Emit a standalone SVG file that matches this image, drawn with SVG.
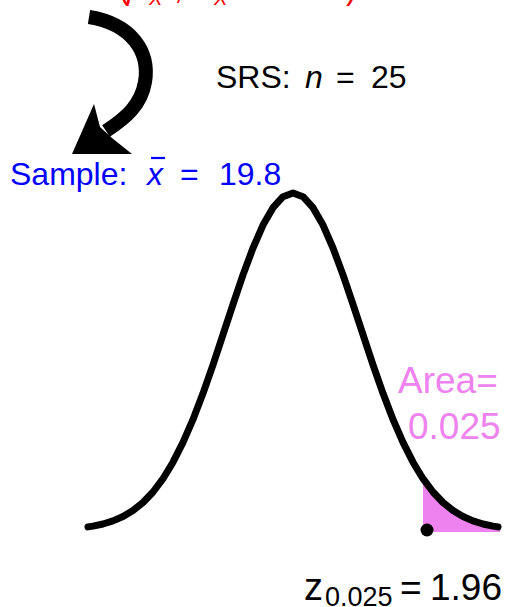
<svg xmlns="http://www.w3.org/2000/svg" width="507" height="607" viewBox="0 0 507 607">
<style>
text { font-family: "Liberation Sans", Arial, sans-serif; }
.it { font-style: italic; }
.red { fill: #FF0000; }
.blue { fill: #0000FF; }
.blk { fill: #000000; }
.vio { fill: #EE82EE; }
.curve { fill: none; stroke: #000; stroke-width: 7; stroke-linecap: round; stroke-linejoin: round; }
</style>
<rect width="507" height="607" fill="#fff"/>

<g id="population">
<text class="red" font-size="31" y="-1"><tspan x="119">(</tspan><tspan x="127" class="it">μ</tspan><tspan x="149" y="5" font-size="20" class="it">X</tspan><tspan x="174" y="-1">,</tspan><tspan x="192" class="it">σ</tspan><tspan x="214" y="5" font-size="20" class="it">X</tspan><tspan x="244" y="-1">= 5</tspan><tspan x="346">)</tspan></text>
</g>

<g id="connectors">
<path d="M 89 17 C 132 24 150 52 145 82 C 141 105 126 118 106 131" fill="none" stroke="#000" stroke-width="14"/>
<polygon points="94,104 72,154 132,154 112,138 100,127" fill="#000"/>
</g>

<g id="srs">
<text class="blk" font-size="32" y="88"><tspan x="216">SRS:</tspan><tspan x="305" class="it">n</tspan><tspan x="336">=</tspan><tspan x="371">25</tspan></text>
</g>

<g id="sample">
<text class="blue" font-size="32" y="185"><tspan x="10">Sample:</tspan><tspan x="147" class="it">x</tspan><tspan x="180">=</tspan><tspan x="219">19.8</tspan></text>
<line x1="151" y1="158" x2="165" y2="158" stroke="#0000FF" stroke-width="2.2"/>
</g>

<g id="distribution">
<polygon class="vio" points="423,532 423,478.7 433,492 443,502.5 453,510.5 463,516.5 473,520.9 483,524 493,526.1 500,527.2 500,532"/>
<polyline class="curve" points="88,526.9 93,526.1 103,524 113,520.9 123,516.5 133,510.5 143,502.5 153,492 163,478.7 173,462.2 183,442.4 193,419.4 203,393.3 213,364.8 223,334.7 233,304.3 243,274.9 253,248 263,225.1 273,207.7 283,196.7 293,193 303,196.7 313,207.7 323,225.1 333,248 343,274.9 353,304.3 363,334.7 373,364.8 383,393.3 393,419.4 403,442.4 413,462.2 423,478.7 433,492 443,502.5 453,510.5 463,516.5 473,520.9 483,524 493,526.1 498,526.9"/>
<circle cx="427" cy="530" r="6.5" fill="#000"/>
</g>

<g id="area-label">
<text class="vio" font-size="37"><tspan x="398" y="393">Area=</tspan><tspan x="408" y="439">0.025</tspan></text>
</g>

<g id="z-label">
<text class="blk" font-size="38" y="600"><tspan x="304">z</tspan><tspan x="325" y="606" font-size="27">0.025</tspan><tspan x="400" y="600" font-size="37">=</tspan><tspan x="430" font-size="37">1.96</tspan></text>
</g>
</svg>
